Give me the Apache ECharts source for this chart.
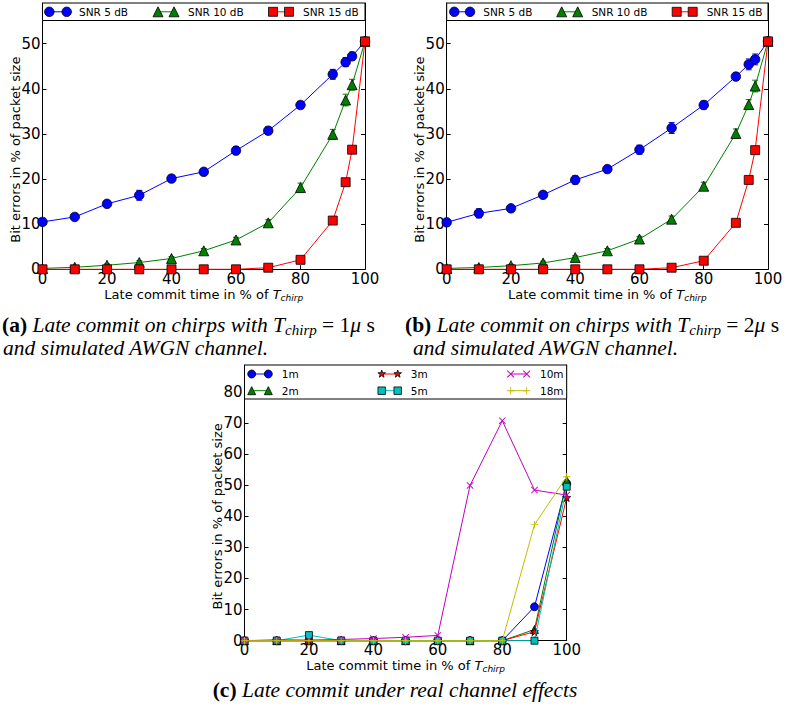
<!DOCTYPE html>
<html><head><meta charset="utf-8">
<script src="https://cdn.jsdelivr.net/npm/echarts@6/dist/echarts.min.js"></script>
<style>html,body{margin:0;padding:0;background:#fff}#c{width:789px;height:708px}</style>
</head><body><div id="c"></div>
<script>
// ---------------- data ----------------
const xSim = [0, 10, 20, 30, 40, 50, 60, 70, 80, 90, 94, 96, 100];
// (a) T_chirp = 1us
const aSnr5  = [10.5, 11.6, 14.5, 16.4, 20.1, 21.6, 26.3, 30.7, 36.4, 43.2, 45.9, 47.2, 50.5];
const aSnr10 = [0.2, 0.45, 0.9, 1.5, 2.4, 4.1, 6.5, 10.3, 18.1, 29.9, 37.5, 40.9, 50.5];
const aSnr15 = [0, 0, 0, 0, 0, 0, 0, 0.35, 2.1, 10.8, 19.3, 26.5, 50.5];
const aErr5  = [0.4, 0.5, 0.6, 1.1, 0.7, 0.7, 0.9, 0.8, 0.8, 1.1, 1.0, 0.9, 0.3];
const aErr10 = [0.1, 0.2, 0.3, 0.4, 0.4, 0.5, 0.6, 0.7, 1.0, 1.1, 1.3, 1.2, 0.3];
const aErr15 = [0, 0, 0, 0, 0, 0, 0, 0.1, 0.3, 0.5, 0.6, 0.7, 0.3];
// (b) T_chirp = 2us
const bSnr5  = [10.4, 12.4, 13.5, 16.5, 19.8, 22.2, 26.5, 31.3, 36.4, 42.7, 45.4, 46.5, 50.5];
const bSnr10 = [0.2, 0.4, 0.8, 1.4, 2.6, 4.1, 6.7, 11.1, 18.4, 30.1, 36.5, 40.6, 50.5];
const bSnr15 = [0, 0, 0, 0, 0, 0, 0, 0.35, 1.9, 10.3, 19.8, 26.4, 50.5];
const bErr5  = [0.4, 1.0, 0.6, 0.6, 0.9, 0.6, 1.0, 1.2, 0.9, 0.8, 1.2, 1.2, 0.3];
const bErr10 = [0.1, 0.2, 0.3, 0.4, 0.4, 0.5, 0.6, 0.7, 0.9, 1.0, 1.1, 1.3, 0.3];
const bErr15 = [0, 0, 0, 0, 0, 0, 0, 0.1, 0.3, 0.5, 0.6, 0.7, 0.3];
// (c) real channel
const xReal = [0, 10, 20, 30, 40, 50, 60, 70, 80, 90, 100];
const c1m  = [0, 0, 0, 0, 0, 0, 0, 0, 0, 10.9, 50.5];
const c2m  = [0, 0, 0, 0, 0, 0, 0, 0, 0, 3.6, 51.5];
const c3m  = [0, 0, 0, 0, 0, 0, 0, 0, 0, 2.9, 46.0];
const c5m  = [0, 0, 1.8, 0, 0, 0, 0, 0, 0, 0, 49.5];
const c10m = [0, 0.3, 0.2, 0.4, 0.7, 1.1, 1.7, 49.9, 70.7, 48.4, 46.8];
const c18m = [0, 0, 0, 0, 0, 0, 0, 0, 0, 37.3, 52.7];
// ticks
const xTicks  = [0, 20, 40, 60, 80, 100];
const yTicksAB = [0, 10, 20, 30, 40, 50];
const yTicksC  = [0, 10, 20, 30, 40, 50, 60, 70, 80];
const yMaxAB = 59;
const yMaxC = 88.6;
const simNames = ['SNR 5 dB', 'SNR 10 dB', 'SNR 15 dB'];
const realNames = ['1m', '2m', '3m', '5m', '10m', '18m'];

// ---------------- styles ----------------
const SANS = 'DejaVu Sans';
const SERIF = 'Liberation Serif';
const STAR_PTS = [[5,0],[6.176,3.382],[9.755,3.455],[6.902,5.618],[7.939,9.045],[5,7],[2.061,9.045],[3.098,5.618],[0.245,3.455],[3.824,3.382]];
const X_PTS = [[0,0.9],[0.9,0],[5,4.1],[9.1,0],[10,0.9],[5.9,5],[10,9.1],[9.1,10],[5,5.9],[0.9,10],[0,9.1],[4.1,5]];
const PLUS_PTS = [[4.4,0],[5.6,0],[5.6,4.4],[10,4.4],[10,5.6],[5.6,5.6],[5.6,10],[4.4,10],[4.4,5.6],[0,5.6],[0,4.4],[4.4,4.4]];
const toPath = pts => 'path://M' + pts.map(p => p.join(',')).join('L') + 'Z';
const SYM = {circle:'circle', triangle:'triangle', square:'rect', star:toPath(STAR_PTS), x:toPath(X_PTS), plus:toPath(PLUS_PTS)};

const zip = (xs, ys) => xs.map((x, i) => [x, ys[i]]);

function axisSet(gi, yMax, yTicks) {
  const line = {show:true, onZero:false, lineStyle:{color:'#000', width:1}};
  const tick = {show:true, inside:true, length:4, lineStyle:{color:'#000', width:1}};
  const lab = {color:'#000', fontFamily:SANS, fontSize:15};
  const xs = [
    {type:'value', gridIndex:gi, position:'bottom', min:0, max:100, interval:xTicks[1]-xTicks[0],
     axisLine:line, axisTick:tick, splitLine:{show:false},
     axisLabel:Object.assign({margin:2, formatter:v => xTicks.includes(v) ? String(v) : ''}, lab),
     name:'Late commit time in % of {t|T}{s|chirp}', nameLocation:'middle', nameGap:17, nameMoveOverlap:false,
     nameTextStyle:{color:'#000', fontFamily:SANS, fontSize:13,
       rich:{t:{color:'#000', fontFamily:SANS, fontSize:13, fontStyle:'italic'},
             s:{color:'#000', fontFamily:SANS, fontSize:9, fontStyle:'italic', padding:[7,0,0,0]}}}},
    {type:'value', gridIndex:gi, position:'top', min:0, max:100, interval:xTicks[1]-xTicks[0],
     axisLine:line, axisTick:tick, splitLine:{show:false}, axisLabel:{show:false}}
  ];
  const ys = [
    {type:'value', gridIndex:gi, position:'left', min:0, max:yMax, interval:yTicks[1]-yTicks[0],
     axisLine:line, axisTick:tick, splitLine:{show:false},
     axisLabel:Object.assign({margin:2, formatter:v => yTicks.includes(v) ? String(v) : ''}, lab),
     name:'Bit errors in % of packet size', nameLocation:'middle', nameGap:21, nameMoveOverlap:false,
     nameTextStyle:{color:'#000', fontFamily:SANS, fontSize:13, padding:[0,27,0,0]}},
    {type:'value', gridIndex:gi, position:'right', min:0, max:yMax, interval:yTicks[1]-yTicks[0],
     axisLine:line, axisTick:tick, splitLine:{show:false}, axisLabel:{show:false}}
  ];
  return {xs, ys};
}

function lineSeries(gi, name, xs, ys, sym, color, size, edge, z) {
  return {
    type:'line', name, xAxisIndex:2*gi, yAxisIndex:2*gi, data:zip(xs, ys),
    symbol:SYM[sym], symbolSize:size, showAllSymbol:true, showSymbol:true,
    lineStyle:{color, width:1}, itemStyle:{color, borderColor: edge ? '#000' : color, borderWidth: edge ? 0.8 : 0},
    emphasis:{disabled:true}, animation:false, z: z, clip:false
  };
}

function errSeries(gi, xs, ys, errs, color) {
  return {
    type:'custom', xAxisIndex:2*gi, yAxisIndex:2*gi, animation:false, z:1, silent:true,
    data: xs.map((x, i) => [x, ys[i], errs[i]]),
    encode:{x:0, y:1},
    renderItem(params, api) {
      const x = api.value(0), y = api.value(1), e = api.value(2);
      const lo = api.coord([x, y - e]), hi = api.coord([x, y + e]);
      const st = {stroke:color, lineWidth:1};
      const w = 3;
      return {type:'group', children:[
        {type:'line', shape:{x1:lo[0], y1:lo[1], x2:hi[0], y2:hi[1]}, style:st},
        {type:'line', shape:{x1:lo[0]-w, y1:lo[1], x2:lo[0]+w, y2:lo[1]}, style:st},
        {type:'line', shape:{x1:hi[0]-w, y1:hi[1], x2:hi[0]+w, y2:hi[1]}, style:st}
      ]};
    }
  };
}

// legend marker as graphic
function marker(sym, cx, cy, size, color, edge) {
  const st = {fill:color, stroke: edge ? '#000' : color, lineWidth: edge ? 0.8 : 0};
  const r = size / 2;
  const poly = pts => ({type:'polygon', shape:{points:pts.map(p => [cx + (p[0]-5)*size/10, cy + (p[1]-5)*size/10])}, style:st, z:101});
  if (sym === 'circle') return {type:'circle', shape:{cx, cy, r}, style:st, z:101};
  if (sym === 'square') return {type:'rect', shape:{x:cx-r, y:cy-r, width:size, height:size}, style:st, z:101};
  if (sym === 'triangle') return {type:'polygon', shape:{points:[[cx, cy-r],[cx+r, cy+r],[cx-r, cy+r]]}, style:st, z:101};
  if (sym === 'star') return poly(STAR_PTS);
  if (sym === 'x') return poly(X_PTS);
  return poly(PLUS_PTS);
}
function legendItem(it) {
  return [
    {type:'line', shape:{x1:it.x1, y1:it.y, x2:it.x2, y2:it.y}, style:{stroke:it.color, lineWidth:1}, z:100},
    marker(it.sym, it.x1, it.y, it.size, it.color, it.edge),
    marker(it.sym, it.x2, it.y, it.size, it.color, it.edge),
    {type:'text', x:it.tx, y:it.y, z:101, style:{text:it.text, fill:'#000', fontFamily:SANS, fontSize:10.5, verticalAlign:'middle', align:'left'}}
  ];
}
function legendBox(x, y, w, h) {
  return {type:'rect', shape:{x, y, width:w, height:h}, style:{fill:'#fff', stroke:'#000', lineWidth:1}, z:99};
}

const BLUE = '#0000ff', GREEN = '#008000', RED = '#ff0000', CYAN = '#00bfbf', MAG = '#bf00bf', YEL = '#bfbf00';

const A = axisSet(0, yMaxAB, yTicksAB);
const B = axisSet(1, yMaxAB, yTicksAB);
const C = axisSet(2, yMaxC, yTicksC);

const series = [
  errSeries(0, xSim, aSnr5, aErr5, BLUE),
  errSeries(0, xSim, aSnr10, aErr10, GREEN),
  errSeries(0, xSim, aSnr15, aErr15, RED),
  lineSeries(0, simNames[0], xSim, aSnr5, 'circle', BLUE, 9.5, true, 3),
  lineSeries(0, simNames[1], xSim, aSnr10, 'triangle', GREEN, 10, true, 4),
  lineSeries(0, simNames[2], xSim, aSnr15, 'square', RED, 9, true, 5),
  errSeries(1, xSim, bSnr5, bErr5, BLUE),
  errSeries(1, xSim, bSnr10, bErr10, GREEN),
  errSeries(1, xSim, bSnr15, bErr15, RED),
  lineSeries(1, simNames[0], xSim, bSnr5, 'circle', BLUE, 9.5, true, 3),
  lineSeries(1, simNames[1], xSim, bSnr10, 'triangle', GREEN, 10, true, 4),
  lineSeries(1, simNames[2], xSim, bSnr15, 'square', RED, 9, true, 5),
  lineSeries(2, realNames[0], xReal, c1m, 'circle', BLUE, 8, true, 3),
  lineSeries(2, realNames[1], xReal, c2m, 'triangle', GREEN, 8, true, 4),
  lineSeries(2, realNames[2], xReal, c3m, 'star', RED, 8, true, 5),
  lineSeries(2, realNames[3], xReal, c5m, 'square', CYAN, 7, true, 6),
  lineSeries(2, realNames[4], xReal, c10m, 'x', MAG, 7, false, 7),
  lineSeries(2, realNames[5], xReal, c18m, 'plus', YEL, 7.5, false, 8)
];

// legends
const gfx = [];
gfx.push(legendBox(42.5, 3, 322.5, 17.5));
[[simNames[0],'circle',BLUE,49.3,66.7,79,9.5],[simNames[1],'triangle',GREEN,158,174,188,10],[simNames[2],'square',RED,273,289,303,9]]
  .forEach(d => gfx.push(...legendItem({text:d[0], sym:d[1], color:d[2], x1:d[3], x2:d[4], tx:d[5], size:d[6], y:11.8, edge:true})));
gfx.push(legendBox(446.7, 3, 321.3, 17.5));
[[simNames[0],'circle',BLUE,454.3,470,483.3,9.5],[simNames[1],'triangle',GREEN,561.7,577.7,591.7,10],[simNames[2],'square',RED,676.7,692.7,706.7,9]]
  .forEach(d => gfx.push(...legendItem({text:d[0], sym:d[1], color:d[2], x1:d[3], x2:d[4], tx:d[5], size:d[6], y:11.8, edge:true})));
gfx.push(legendBox(244.5, 365, 322.2, 34));
[[realNames[0],'circle',BLUE,251.7,268.3,281.7,374,8,true],[realNames[1],'triangle',GREEN,251.7,268.3,281.7,390.7,8,true],
 [realNames[2],'star',RED,381.7,397.7,410.7,374,8,true],[realNames[3],'square',CYAN,381.7,397.7,410.7,390.7,7.5,true],
 [realNames[4],'x',MAG,510.7,526.7,540,374,7.5,false],[realNames[5],'plus',YEL,510.7,526.7,540,390.7,7.5,false]]
  .forEach(d => gfx.push(...legendItem({text:d[0], sym:d[1], color:d[2], x1:d[3], x2:d[4], tx:d[5], y:d[6], size:d[7], edge:d[8]})));

// captions
const CF = 21.5;
const capRich = {
  b:{fontFamily:SERIF, fontSize:CF, fontWeight:'bold', fill:'#000'},
  i:{fontFamily:SERIF, fontSize:CF, fontStyle:'italic', fill:'#000'},
  u:{fontFamily:SERIF, fontSize:CF, fill:'#000'},
  s:{fontFamily:SERIF, fontSize:15, fontStyle:'italic', fill:'#000', padding:[9,0,0,0]}
};
function cap(x, y, text, align) {
  return {type:'text', x, y, z:100, style:{text, rich:capRich, fontFamily:SERIF, fontSize:CF, fill:'#000', verticalAlign:'middle', align:align || 'left'}};
}
gfx.push(cap(2, 325, '{b|(a)} {i|Late commit on chirps with T}{s|chirp}{u| = 1}{i|μ}{u| s}'));
gfx.push(cap(3, 348, '{i|and simulated AWGN channel.}'));
gfx.push(cap(405, 325, '{b|(b)} {i|Late commit on chirps with T}{s|chirp}{u| = 2}{i|μ}{u| s}'));
gfx.push(cap(413, 348, '{i|and simulated AWGN channel.}'));
gfx.push(cap(395, 690, '{b|(c)} {i|Late commit under real channel effects}', 'center'));

const chart = echarts.init(document.getElementById('c'), null, {renderer:'svg', width:789, height:708});
chart.setOption({
  animation:false,
  backgroundColor:'#fff',
  grid:[
    {left:42.5, top:3, width:322.5, height:266.3, outerBoundsMode:'none', containLabel:false},
    {left:446.7, top:3, width:321.3, height:266.3, outerBoundsMode:'none', containLabel:false},
    {left:244.5, top:365, width:322.2, height:275.7, outerBoundsMode:'none', containLabel:false}
  ],
  xAxis:[...A.xs, ...B.xs, ...C.xs],
  yAxis:[...A.ys, ...B.ys, ...C.ys],
  series,
  graphic:gfx
});
</script>
</body></html>
